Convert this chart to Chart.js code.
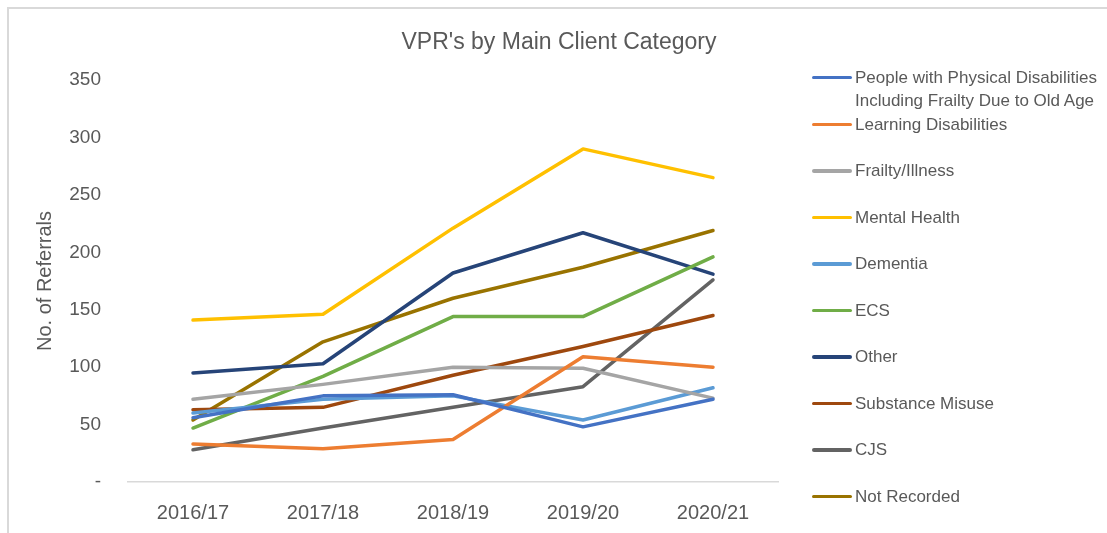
<!DOCTYPE html>
<html>
<head>
<meta charset="utf-8">
<script src="https://cdn.jsdelivr.net/npm/chart.js@4.4.1/dist/chart.umd.min.js"></script>
<style>
  html, body { margin: 0; padding: 0; background: #fff; overflow: hidden; }
  #wrap { position: relative; width: 1107px; height: 533px; overflow: hidden; font-family: 'Liberation Sans', Arial, sans-serif; }
  #frame { position: absolute; left: 7px; top: 7px; width: 1100px; height: 526px; border-top: 2px solid #D9D9D9; border-left: 2px solid #D9D9D9; box-sizing: border-box; }
  #title { position: absolute; left: 0; width: 1118px; top: 27px; text-align: center; font-size: 23px; color: #595959; line-height: 28px; }
  canvas { position: absolute; left: 0; top: 0; }
  .lg { position: absolute; left: 812px; font-size: 17px; color: #595959; line-height: 23px; }
  .lg .sw { position: absolute; left: 0; top: 10px; width: 40px; height: 3.5px; border-radius: 2px; }
  .lg .tx { position: absolute; left: 43px; top: 0; width: 250px; white-space: normal; }
</style>
</head>
<body>
<div id="wrap">
  <div id="frame"></div>
  <canvas id="c" width="1107" height="533"></canvas>
  <div id="title">VPR's by Main Client Category</div>
  <div id="legend"></div>
</div>
<script>
const categories = ['2016/17', '2017/18', '2018/19', '2019/20', '2020/21'];
const seriesNames = [
  'People with Physical Disabilities Including Frailty Due to Old Age',
  'Learning Disabilities',
  'Frailty/Illness',
  'Mental Health',
  'Dementia',
  'ECS',
  'Other',
  'Substance Misuse',
  'CJS',
  'Not Recorded'
];
const physicalDisabilities = [56, 75, 76, 48, 72];
const learningDisabilities = [33, 29, 37, 109, 100];
const frailtyIllness = [72, 85, 100, 99, 73];
const mentalHealth = [141, 146, 221, 290, 265];
const dementia = [60, 72, 75, 54, 82];
const ecs = [47, 92, 144, 144, 196];
const other = [95, 103, 182, 217, 181];
const substanceMisuse = [63, 65, 93, 118, 145];
const cjs = [28, 47, 65, 83, 176];
const notRecorded = [54, 122, 160, 187, 219];
const yTicks = [0, 50, 100, 150, 200, 250, 300, 350];

const seriesValues = [physicalDisabilities, learningDisabilities, frailtyIllness, mentalHealth, dementia, ecs, other, substanceMisuse, cjs, notRecorded];
const colors = ['#4472C4', '#ED7D31', '#A5A5A5', '#FFC000', '#5B9BD5', '#70AD47', '#264478', '#9E480E', '#636363', '#997300'];

const datasets = seriesNames.map((n, i) => ({
  label: n,
  data: seriesValues[i],
  borderColor: colors[i],
  backgroundColor: colors[i],
  borderWidth: 3.5,
  pointRadius: 0,
  tension: 0,
  borderCapStyle: 'round',
  borderJoinStyle: 'round',
  fill: false
}));

const FONT = "'Liberation Sans', Arial, sans-serif";
new Chart(document.getElementById('c'), {
  type: 'line',
  data: { labels: categories, datasets },
  options: {
    responsive: false,
    animation: false,
    layout: { padding: { top: 80, right: 329, left: 0, bottom: 0 } },
    plugins: { legend: { display: false }, tooltip: { enabled: false }, title: { display: false } },
    scales: {
      x: {
        offset: true,
        grid: { display: false, drawTicks: false },
        border: { display: true, color: '#D9D9D9', width: 1.5 },
        ticks: { color: '#595959', font: { family: FONT, size: 20 }, padding: 19 },
        afterFit: s => { s.height = 51; }
      },
      y: {
        min: 0, max: 350,
        afterBuildTicks: s => { s.ticks = yTicks.map(v => ({ value: v })); },
        grid: { display: false, drawTicks: false },
        border: { display: false },
        ticks: { color: '#595959', font: { family: FONT, size: 19 }, padding: 27,
                 callback: v => v === 0 ? '-' : String(v) },
        title: { display: true, text: 'No. of Referrals', color: '#595959',
                 font: { family: FONT, size: 20 }, padding: { top: 33, bottom: 0 } },
        afterFit: s => { s.width = 128; }
      }
    }
  }
});

const lg = document.getElementById('legend');
seriesNames.forEach((n, i) => {
  const d = document.createElement('div');
  d.className = 'lg';
  const center = i === 0 ? 77 : 124 + (i - 1) * 46.5;
  d.style.top = (center - 11.5) + 'px';
  d.innerHTML = '<div class="sw" style="background:' + colors[i] + '"></div><div class="tx"></div>';
  d.querySelector('.tx').textContent = n;
  lg.appendChild(d);
});
</script>
</body>
</html>
